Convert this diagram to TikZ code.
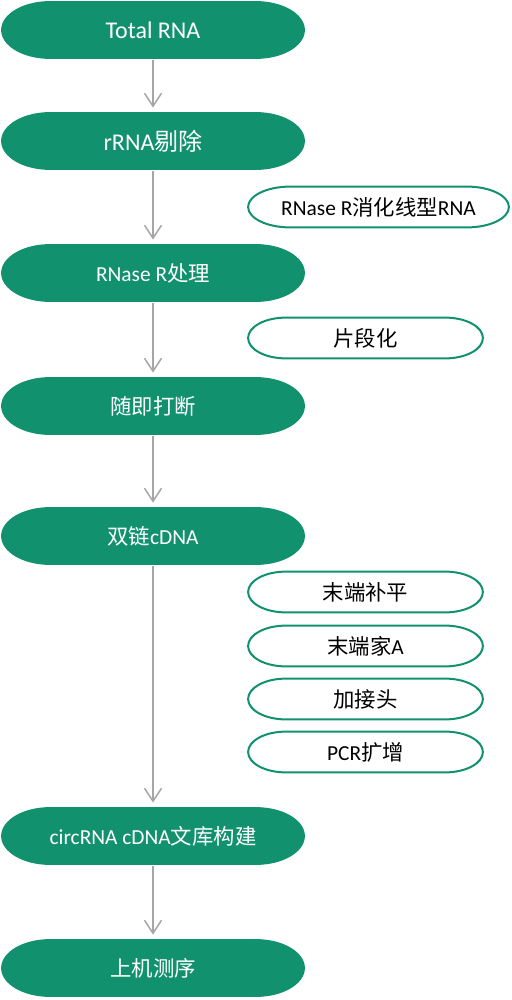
\documentclass[tikz,border=0pt]{standalone}
\usepackage{fontspec}
\setmainfont{Carlito}
\newfontfamily\cjk{Noto Sans CJK SC}
\newcommand{\zh}[1]{{\cjk #1}}
\usetikzlibrary{arrows.meta,calc}
\definecolor{pillgreen}{RGB}{17,145,110}
\definecolor{arrowgray}{RGB}{166,166,166}
% terminator outline with elliptic ends, drawn inside the node box
\newcommand{\pillpath}[1]{%
  \path[#1] let \p1=([shift={(0.55pt,0.55pt)}]path picture bounding box.south west),
    \p2=([shift={(-0.55pt,-0.55pt)}]path picture bounding box.north east),
    \n1={0.161*(\x2-\x1)}, \n2={0.5*(\y2-\y1)} in
    (\x1+\n1,\y2) -- (\x2-\n1,\y2)
    arc[start angle=90, end angle=-90, x radius=\n1, y radius=\n2]
    -- (\x1+\n1,\y1)
    arc[start angle=270, end angle=90, x radius=\n1, y radius=\n2] -- cycle;}
\tikzset{
  flowarrow/.style={-{Straight Barb[length=6.5pt, width=8.5pt]}, line width=0.75pt, draw=arrowgray, shorten >=1.5pt},
  mainpill/.style={fill=white, minimum width=153pt, minimum height=30pt, inner sep=0pt, text=white, align=center,
    path picture={\pillpath{fill=pillgreen}}},
  sidepill/.style={fill=white, minimum width=118.5pt, minimum height=21.5pt, inner sep=0pt, text=black, align=center,
    path picture={\pillpath{draw=pillgreen, line width=1pt, fill=white}}}
}
\begin{document}
\begin{tikzpicture}[x=0.5pt, y=-0.5pt, every node/.style={font=\fontsize{10.7}{13}\selectfont}]
  \useasboundingbox (0,0) rectangle (512,1000);
  % main steps
  \node[mainpill, font=\fontsize{12}{14}\selectfont] (total) at (153,30) {Total RNA};
  \node[mainpill, font=\fontsize{12}{14}\selectfont] (rrna) at (153,141) {rRNA\zh{剔除}};
  \node[mainpill] (rnaser) at (153,273) {RNase R\zh{处理}};
  \node[mainpill] (frag) at (153,406) {\zh{随即打断}};
  \node[mainpill] (dscdna) at (153,536) {\zh{双链}cDNA};
  \node[mainpill] (library) at (153,836) {circRNA cDNA\zh{文库构建}};
  \node[mainpill] (seq) at (153,968) {\zh{上机测序}};
  % side notes
  \node[sidepill, minimum width=131.5pt] (digest) at (378.5,207) {RNase R\zh{消化线型}RNA};
  \node[sidepill] (piece) at (365.5,338) {\zh{片段化}};
  \node[sidepill] (endrep) at (365.5,592) {\zh{末端补平}};
  \node[sidepill] (atail) at (365.5,646) {\zh{末端家}A};
  \node[sidepill] (adapt) at (365.5,699) {\zh{加接头}};
  \node[sidepill] (pcr) at (365.5,752) {PCR\zh{扩增}};
  % flow
  \draw[flowarrow] (total) -- (rrna);
  \draw[flowarrow] (rrna) -- (rnaser);
  \draw[flowarrow] (rnaser) -- (frag);
  \draw[flowarrow] (frag) -- (dscdna);
  \draw[flowarrow] (dscdna) -- (library);
  \draw[flowarrow] (library) -- (seq);
\end{tikzpicture}
\end{document}
